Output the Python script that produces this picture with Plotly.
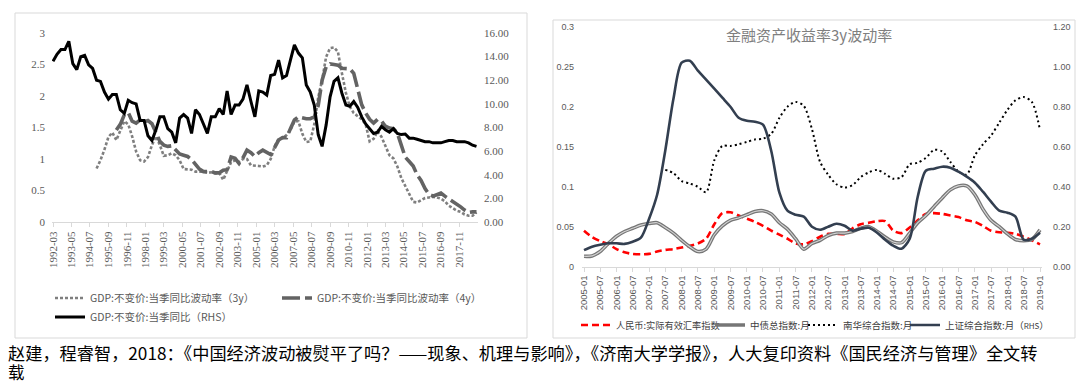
import pandas as pd
import plotly.graph_objects as go

W, H = 1080, 383

# ---------------- Left chart data (quarterly, 1992Q1 - 2018Q4) ----------------
gdp_dates = pd.date_range("1992-03-01", "2018-12-01", freq="3MS").strftime("%Y-%m-%d").tolist()

gdp_yoy_rhs = [
    13.6, 14.2, 14.6, 14.6, 15.3, 13.4, 12.9, 14.0, 14.1, 13.3,
    13.0, 12.0, 11.9, 11.0, 10.4, 10.8, 10.8, 9.5, 9.2, 10.3,
    10.1, 10.0, 8.6, 8.6, 7.3, 6.9, 7.8, 8.9, 8.9, 7.9,
    7.6, 6.7, 8.8, 9.1, 8.8, 7.5, 9.5, 9.1, 8.3, 7.5,
    8.9, 8.9, 9.6, 9.1, 11.1, 9.1, 9.9, 9.9, 10.4, 11.6,
    10.2, 8.9, 11.1, 11.0, 10.75, 12.4, 12.5, 13.7, 12.2, 12.4,
    13.7, 15.0, 14.3, 13.9, 11.6, 11.0, 9.9, 7.4, 6.4, 8.2,
    10.6, 11.9, 12.2, 10.9, 9.9, 9.8, 10.2, 9.7, 8.9, 8.3,
    7.9, 7.5, 7.6, 8.1, 7.8, 7.6, 7.9, 7.5, 7.4, 7.45,
    7.1, 7.1, 7.0, 6.9, 6.8, 6.8, 6.7, 6.7, 6.7, 6.8,
    6.9, 6.9, 6.8, 6.8, 6.8, 6.7, 6.5, 6.4,
]

gdp_vol_3y = [None] * 11 + [
    0.85, 0.98, 1.15, 1.35, 1.42, 1.30, 1.45, 1.60, 1.55, 1.36,
    1.12, 0.98, 0.96, 1.03, 1.22, 1.36, 1.22, 1.05, 1.06, 1.09,
    1.06, 0.98, 0.84, 0.83, 0.83, 0.80, 0.80, 0.80, 0.78, 0.79,
    0.77, 0.78, 0.67, 0.82, 0.95, 0.98, 0.95, 1.00, 1.00, 0.90,
    0.90, 0.89, 0.88, 0.90, 1.00, 1.20, 1.32, 1.33, 1.38, 1.46,
    1.60, 1.60, 1.40, 1.27, 1.28, 1.55, 1.98, 2.25, 2.62, 2.76,
    2.77, 2.70, 2.36, 2.05, 1.83, 1.73, 1.68, 1.63, 1.55, 1.28,
    1.32, 1.44, 1.35, 1.20, 1.06, 1.01, 0.88, 0.70, 0.57, 0.43,
    0.32, 0.31, 0.35, 0.38, 0.39, 0.40, 0.39, 0.37, 0.33, 0.26,
    0.22, 0.18, 0.16, 0.12, 0.10, 0.10, 0.15,
]

gdp_vol_4y = [None] * 16 + [
    1.46, 1.55, 1.70, 1.74, 1.60, 1.57, 1.62, 1.59, 1.61,
    1.56, 1.42, 1.28, 1.22, 1.20, 1.21, 1.15, 1.08, 1.06, 1.04,
    0.99, 0.92, 0.84, 0.80, 0.80, 0.80, 0.78, 0.78, 0.82, 0.83,
    1.03, 1.01, 0.93, 1.02, 1.14, 1.10, 1.04, 1.10, 1.14, 1.10,
    1.07, 1.18, 1.30, 1.34, 1.34, 1.48, 1.62, 1.67, 1.65, 1.64,
    1.64, 1.67, 1.85, 2.25, 2.46, 2.51, 2.50, 2.49, 2.44, 2.44,
    2.43, 2.36, 2.10, 1.86, 1.73, 1.63, 1.57, 1.63, 1.60, 1.52,
    1.49, 1.48, 1.41, 1.22, 1.03, 0.96, 0.89, 0.75, 0.66, 0.53,
    0.44, 0.41, 0.44, 0.46, 0.41, 0.37, 0.33, 0.29, 0.24, 0.19,
    0.15, 0.16, 0.16,
]

left_tick_labels = [
    "1992-03", "1993-05", "1994-07", "1995-09", "1996-11", "1998-01", "1999-03",
    "2000-05", "2001-07", "2002-09", "2003-11", "2005-01", "2006-03", "2007-05",
    "2008-07", "2009-09", "2010-11", "2012-01", "2013-03", "2014-05", "2015-07",
    "2016-09", "2017-11",
]

# ---------------- Right chart data (every 3 months, 2005-01 - 2019-01) ----------------
fin_dates = pd.date_range("2005-01-01", "2019-01-01", freq="3MS").strftime("%Y-%m-%d").tolist()

rmb_reer = [
    0.045, 0.037, 0.032, 0.028, 0.022, 0.018, 0.016, 0.0155, 0.016, 0.019,
    0.021, 0.022, 0.024, 0.026, 0.029, 0.035, 0.053, 0.067, 0.068, 0.064,
    0.060, 0.056, 0.051, 0.045, 0.040, 0.035, 0.029, 0.028, 0.032, 0.0375,
    0.041, 0.041, 0.041, 0.048, 0.053, 0.055, 0.057, 0.057, 0.045, 0.042,
    0.049, 0.058, 0.066, 0.067, 0.066, 0.064, 0.062, 0.058, 0.056, 0.051,
    0.045, 0.043, 0.0425, 0.041, 0.0375, 0.033, 0.028,
]

chinabond = [
    0.013, 0.0135, 0.019, 0.029, 0.038, 0.044, 0.048, 0.052, 0.054, 0.055,
    0.049, 0.042, 0.033, 0.025, 0.019, 0.022, 0.040, 0.051, 0.058, 0.061,
    0.065, 0.069, 0.070, 0.066, 0.055, 0.047, 0.035, 0.022, 0.029, 0.033,
    0.039, 0.042, 0.042, 0.044, 0.048, 0.050, 0.044, 0.037, 0.031, 0.030,
    0.042, 0.055, 0.064, 0.075, 0.086, 0.096, 0.101, 0.101, 0.090, 0.072,
    0.058, 0.050, 0.041, 0.034, 0.0325, 0.034, 0.046,
]

nanhua = [None] * 10 + [
    0.121, 0.117, 0.107, 0.104, 0.100, 0.093, 0.133, 0.151, 0.151, 0.153,
    0.156, 0.159, 0.160, 0.166, 0.186, 0.200, 0.206, 0.201, 0.172, 0.131,
    0.115, 0.103, 0.099, 0.102, 0.112, 0.118, 0.121, 0.116, 0.110, 0.112,
    0.128, 0.130, 0.136, 0.146, 0.144, 0.131, 0.119, 0.115, 0.139, 0.153,
    0.164, 0.180, 0.196, 0.208, 0.212, 0.206, 0.171,
]

shcomp_rhs = [
    0.083, 0.10, 0.11, 0.117, 0.117, 0.114, 0.125, 0.145, 0.24, 0.36,
    0.58, 0.84, 1.02, 1.03, 0.98, 0.935, 0.89, 0.845, 0.80, 0.745,
    0.73, 0.725, 0.71, 0.58, 0.37, 0.28, 0.26, 0.25, 0.20, 0.185,
    0.20, 0.215, 0.205, 0.18, 0.19, 0.195, 0.17, 0.135, 0.105, 0.09,
    0.14, 0.35, 0.48, 0.49, 0.50, 0.495, 0.475, 0.45, 0.42, 0.375,
    0.325, 0.28, 0.27, 0.25, 0.135, 0.14, 0.17,
]

right_tick_labels = [
    "2005-01", "2005-07", "2006-01", "2006-07", "2007-01", "2007-07", "2008-01",
    "2008-07", "2009-01", "2009-07", "2010-01", "2010-07", "2011-01", "2011-07",
    "2012-01", "2012-07", "2013-01", "2013-07", "2014-01", "2014-07", "2015-01",
    "2015-07", "2016-01", "2016-07", "2017-01", "2017-07", "2018-01", "2018-07",
    "2019-01",
]

caption_line1 = ("赵建，程睿智，2018：《中国经济波动被熨平了吗？——现象、机理与影响》，"
                 "《济南大学学报》，人大复印资料《国民经济与管理》全文转")
caption_line2 = "载"
right_title = "金融资产收益率3y波动率"


# ---------------- helpers (layout geometry only) ----------------
def fx(p):
    return p / W


def fy(p):
    return 1 - p / H


def date_range_for(dom_px, d0, p0, d1, p1):
    t0, t1 = pd.Timestamp(d0), pd.Timestamp(d1)
    per_px = (t1 - t0) / (p1 - p0)
    return [str(t0 + per_px * (dom_px[0] - p0)), str(t0 + per_px * (dom_px[1] - p0))]


def to_date(lbl):
    return lbl + "-01"


L_DOM = (52, 478)
R_DOM = (582, 1042)
left_range = date_range_for(L_DOM, "1992-03-01", 53, "2018-12-01", 476.5)
right_range = date_range_for(R_DOM, "2005-01-01", 584, "2019-01-01", 1040)

grey_txt = "#595959"
axis_grey = "#d9d9d9"
serif = "Liberation Serif"
sans = "Liberation Sans"
cjk = "Noto Sans CJK SC"

fig = go.Figure()

# Left chart traces
fig.add_trace(go.Scatter(
    x=gdp_dates, y=gdp_vol_3y, mode="lines", name="GDP:不变价:当季同比波动率（3y）",
    line=dict(color="#7f7f7f", width=2.6, dash="3px,2px"),
    xaxis="x", yaxis="y", legend="legend"))
fig.add_trace(go.Scatter(
    x=gdp_dates, y=gdp_vol_4y, mode="lines", name="GDP:不变价:当季同比波动率（4y）",
    line=dict(color="#636363", width=3.6, dash="18px,5px"),
    xaxis="x", yaxis="y", legend="legend2"))
fig.add_trace(go.Scatter(
    x=gdp_dates, y=gdp_yoy_rhs, mode="lines", name="GDP:不变价:当季同比（RHS）",
    line=dict(color="#000000", width=3),
    xaxis="x", yaxis="y2", legend="legend3"))

# Right chart traces
fig.add_trace(go.Scatter(
    x=fin_dates, y=rmb_reer, mode="lines", name="人民币:实际有效汇率指数",
    line=dict(color="#ff0000", width=2.6, dash="7px,4px", shape="spline", smoothing=0.8),
    xaxis="x2", yaxis="y3", legend="legend4"))
fig.add_trace(go.Scatter(
    x=fin_dates, y=chinabond, mode="lines", name="中债总指数:月",
    line=dict(color="#767676", width=3.6, shape="spline", smoothing=0.8),
    xaxis="x2", yaxis="y3", legend="legend5"))
fig.add_trace(go.Scatter(
    x=fin_dates, y=chinabond, mode="lines", name="中债总指数:月", showlegend=False,
    line=dict(color="#d4d4d4", width=1.1, shape="spline", smoothing=0.8),
    xaxis="x2", yaxis="y3", hoverinfo="skip"))
fig.add_trace(go.Scatter(
    x=fin_dates, y=nanhua, mode="lines", name="南华综合指数:月",
    line=dict(color="#000000", width=2, dash="2px,3px", shape="spline", smoothing=0.8),
    xaxis="x2", yaxis="y3", legend="legend6"))
fig.add_trace(go.Scatter(
    x=fin_dates, y=shcomp_rhs, mode="lines",
    name="上证综合指数:月（<span style='font-size:8px'>RHS</span>）",
    line=dict(color="#333f50", width=2.6, shape="spline", smoothing=0.8),
    xaxis="x2", yaxis="y4", legend="legend7"))

common_x = dict(type="date", showgrid=False, zeroline=False, showline=True, automargin=False,
                linecolor=axis_grey, linewidth=1, ticks="outside", ticklen=4,
                tickcolor=axis_grey, tickangle=-90)
common_y = dict(showgrid=False, zeroline=False, showline=False, ticks="", automargin=False)

leg_base = dict(bgcolor="rgba(0,0,0,0)", borderwidth=0, orientation="h",
                xanchor="left", yanchor="middle", itemwidth=30,
                font=dict(family=cjk, size=10.5, color=grey_txt))

legends = {}
for key, (px, py) in {
    "legend": (50, 298), "legend2": (277, 298), "legend3": (50, 317),
}.items():
    legends[key] = dict(leg_base, x=fx(px), y=fy(py))
for key, (px, py, fs) in {
    "legend4": (576, 325, 9.2), "legend5": (710, 325, 9.5),
    "legend6": (803, 325, 9.5), "legend7": (905, 325, 9.5),
}.items():
    legends[key] = dict(leg_base, x=fx(px), y=fy(py),
                        font=dict(family=cjk, size=fs, color="#404040"))

fig.update_layout(
    width=W, height=H, margin=dict(l=0, r=0, t=0, b=0, autoexpand=False),
    paper_bgcolor="white", plot_bgcolor="white",
    xaxis=dict(common_x, domain=[fx(L_DOM[0]), fx(L_DOM[1])], anchor="y", range=left_range,
               tickvals=[to_date(t) for t in left_tick_labels], ticktext=left_tick_labels,
               tickfont=dict(family=serif, size=11, color=grey_txt)),
    yaxis=dict(common_y, domain=[fy(222), fy(33)], anchor="x", range=[0, 3], dtick=0.5,
               tickfont=dict(family=serif, size=11, color=grey_txt), ticklabelstandoff=6),
    yaxis2=dict(common_y, overlaying="y", side="right", anchor="x", range=[0, 16], dtick=2,
                tickformat=".2f", tickfont=dict(family=serif, size=11, color=grey_txt),
                ticklabelstandoff=5),
    xaxis2=dict(common_x, domain=[fx(R_DOM[0]), fx(R_DOM[1])], anchor="y3", range=right_range,
                tickvals=[to_date(t) for t in right_tick_labels], ticktext=right_tick_labels,
                tickfont=dict(family=sans, size=9.5, color=grey_txt)),
    yaxis3=dict(common_y, domain=[fy(266.7), fy(26.7)], anchor="x2", range=[0, 0.3], dtick=0.05,
                tickfont=dict(family=sans, size=9, color=grey_txt), ticklabelstandoff=7),
    yaxis4=dict(common_y, overlaying="y3", side="right", anchor="x2", range=[0, 1.2], dtick=0.2,
                tickformat=".2f", tickfont=dict(family=sans, size=9, color=grey_txt),
                ticklabelstandoff=10),
    showlegend=True,
    **legends,
    shapes=[
        dict(type="rect", xref="paper", yref="paper", x0=fx(15), x1=fx(527), y0=fy(338), y1=fy(13),
             line=dict(color=axis_grey, width=1), layer="below"),
        dict(type="rect", xref="paper", yref="paper", x0=fx(553), x1=fx(1075), y0=fy(338), y1=fy(20),
             line=dict(color=axis_grey, width=1), layer="below"),
    ],
    annotations=[
        dict(text=right_title, xref="paper", yref="paper", x=fx(809), y=fy(34),
             xanchor="center", yanchor="middle", showarrow=False,
             font=dict(family=cjk, size=15, color="#7f7f7f")),
        dict(text=caption_line1, xref="paper", yref="paper", x=fx(6), y=fy(352),
             xanchor="left", yanchor="middle", align="left", showarrow=False,
             font=dict(family=cjk, size=17.2, color="#000000")),
        dict(text=caption_line2, xref="paper", yref="paper", x=fx(6), y=fy(372),
             xanchor="left", yanchor="middle", align="left", showarrow=False,
             font=dict(family=cjk, size=16.5, color="#000000")),
    ],
)

fig.write_html(
    "out.html",
    config={"displayModeBar": False},
    post_script="document.body.style.margin='0px';document.body.style.padding='0px';"
                "document.body.style.overflow='hidden';",
)
